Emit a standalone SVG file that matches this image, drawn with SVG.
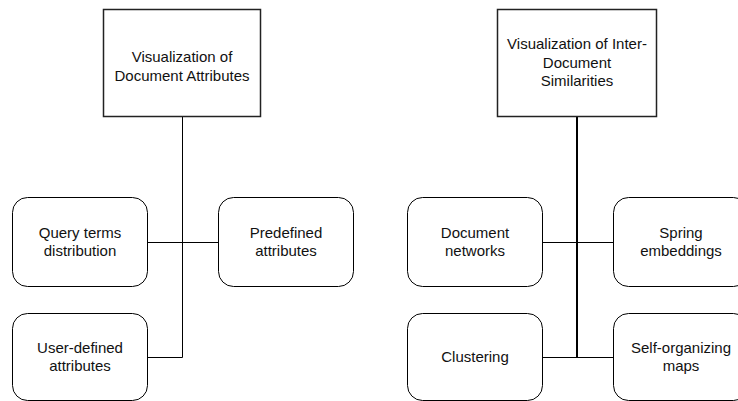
<svg xmlns="http://www.w3.org/2000/svg" width="738" height="401" viewBox="0 0 738 401">
<style>
.top{fill:#fff;stroke:#222;stroke-width:1.5}
.box{fill:#fff;stroke:#000;stroke-width:1}
.t{font-family:"Liberation Sans",Arial,sans-serif;font-size:15px;fill:#111;text-anchor:middle}
.c{stroke:#000;fill:none}
</style>
<rect width="738" height="401" fill="#fff"/>
<g id="connectors">
<path class="c" stroke-width="1" d="M182.5 116V357.5H147M147 242.5H218"/>
<path class="c" stroke-width="2" d="M577 116V357.5"/>
<path class="c" stroke-width="1" d="M542 242.5H613M542 357.5H613"/>
</g>
<g id="n1"><rect class="top" x="103.5" y="9.5" width="157" height="107"/>
<text class="t" x="182" y="62">Visualization of</text><text class="t" x="182" y="81">Document Attributes</text></g>
<g id="n2"><rect class="top" x="497.5" y="9.5" width="159" height="107"/>
<text class="t" x="577" y="49">Visualization of Inter-</text><text class="t" x="577" y="68">Document</text><text class="t" x="577" y="86">Similarities</text></g>
<g id="n3"><rect class="box" x="12.5" y="197.5" width="135" height="89" rx="15"/>
<text class="t" x="80" y="238">Query terms</text><text class="t" x="80" y="256">distribution</text></g>
<g id="n4"><rect class="box" x="218.5" y="197.5" width="135" height="89" rx="15"/>
<text class="t" x="286" y="238">Predefined</text><text class="t" x="286" y="256">attributes</text></g>
<g id="n5"><rect class="box" x="12.5" y="313.5" width="135" height="87" rx="15"/>
<text class="t" x="80" y="353">User-defined</text><text class="t" x="80" y="371">attributes</text></g>
<g id="n6"><rect class="box" x="407.5" y="197.5" width="135" height="89" rx="15"/>
<text class="t" x="475" y="238">Document</text><text class="t" x="475" y="256">networks</text></g>
<g id="n7"><rect class="box" x="613.5" y="197.5" width="135" height="89" rx="15"/>
<text class="t" x="681" y="238">Spring</text><text class="t" x="681" y="256">embeddings</text></g>
<g id="n8"><rect class="box" x="407.5" y="313.5" width="135" height="87" rx="15"/>
<text class="t" x="475" y="362">Clustering</text></g>
<g id="n9"><rect class="box" x="613.5" y="313.5" width="135" height="87" rx="15"/>
<text class="t" x="681" y="353">Self-organizing</text><text class="t" x="681" y="371">maps</text></g>
</svg>
